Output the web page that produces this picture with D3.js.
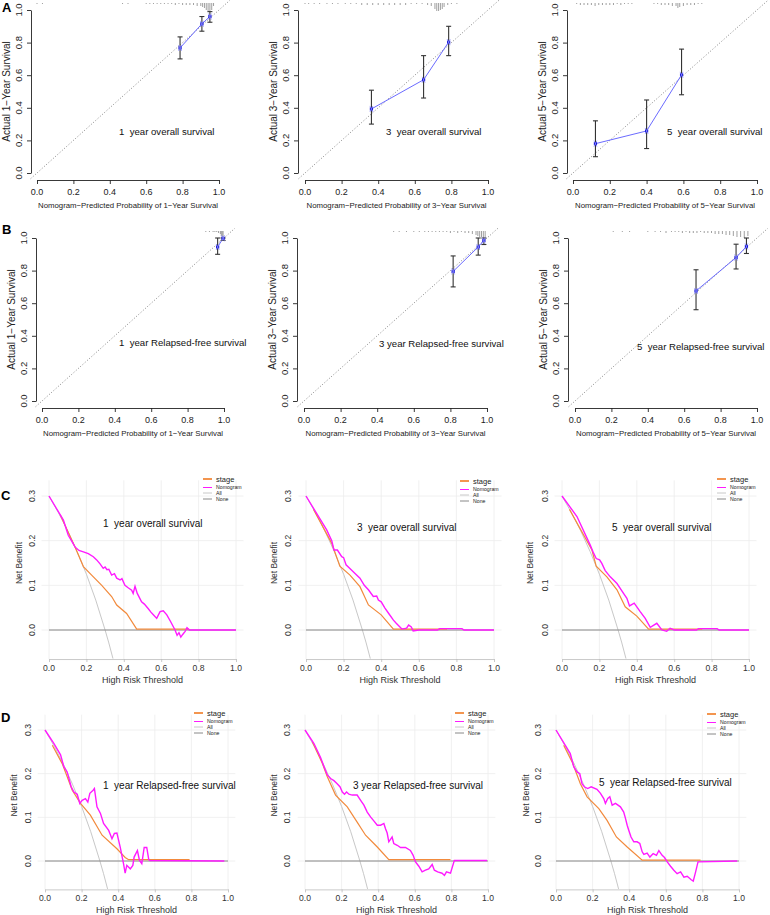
<!DOCTYPE html>
<html><head><meta charset="utf-8">
<script src="https://cdn.jsdelivr.net/npm/d3@7"></script>
<style>body{margin:0;background:#fff}svg{display:block}text{white-space:pre}</style>
</head><body>
<script>
// ---------- shared ticks ----------
const calibTicks = [0, 0.2, 0.4, 0.6, 0.8, 1.0];
const dcaXTicks = [0, 0.2, 0.4, 0.6, 0.8, 1.0];
const dcaYTicks = [0, 0.1, 0.2, 0.3];
const legendLabels = ["stage", "Nomogram", "All", "None"];

// ---------- calibration data ----------
const a1Pred = [0.786, 0.906, 0.950];
const a1Obs  = [0.767, 0.915, 0.960];
const a1Lo   = [0.700, 0.870, 0.925];
const a1Hi   = [0.835, 0.960, 0.990];
const a1SpikeP = [0.0,0.03,0.47,0.5,0.6,0.62,0.64,0.66,0.68,0.7,0.72,0.74,0.76,0.78,0.8,0.82,0.84,0.86,0.88,0.9,0.91,0.92,0.93,0.94,0.95,0.96,0.97];
const a1SpikeN = [1,1,1,1,1,1,1,1,1,1,1,1,2,1,2,2,2,2,3,3,4,5,7,8,8,7,3];

const a2Pred = [0.363, 0.648, 0.785];
const a2Obs  = [0.393, 0.572, 0.803];
const a2Lo   = [0.300, 0.460, 0.720];
const a2Hi   = [0.508, 0.720, 0.900];
const a2SpikeP = [0.0,0.02,0.05,0.08,0.12,0.15,0.18,0.22,0.25,0.28,0.31,0.34,0.37,0.40,0.43,0.46,0.49,0.52,0.55,0.58,0.61,0.64,0.67,0.69,0.71,0.72,0.73,0.74,0.75,0.76,0.78,0.80,0.83];
const a2SpikeN = [1,1,1,1,1,1,1,1,1,1,2,2,2,2,2,2,2,2,2,1,1,1,2,3,6,8,8,7,6,4,2,1,1];

const a3Pred = [0.122, 0.400, 0.590];
const a3Obs  = [0.180, 0.258, 0.602];
const a3Lo   = [0.100, 0.150, 0.480];
const a3Hi   = [0.320, 0.448, 0.760];
const a3SpikeP = [0.02,0.04,0.06,0.08,0.10,0.12,0.14,0.16,0.18,0.20,0.22,0.24,0.26,0.28,0.30,0.32,0.44,0.46,0.48,0.50,0.52,0.54,0.56,0.57,0.58,0.60,0.62,0.64,0.66,0.68,0.70];
const a3SpikeN = [1,2,2,2,2,3,2,2,2,2,2,1,2,1,1,1,1,1,2,2,2,3,3,5,4,3,2,2,2,1,1];

const b1Pred = [0.965, 0.995];
const b1Obs  = [0.945, 0.998];
const b1Lo   = [0.900, 0.985];
const b1Hi   = [1.000, 1.000];
const b1SpikeP = [0.9,0.92,0.94,0.95,0.96,0.97,0.98,0.985,0.99,0.995];
const b1SpikeN = [1,1,1,1,1,2,3,5,6,8];

const b2Pred = [0.815, 0.952, 0.983];
const b2Obs  = [0.795, 0.945, 0.985];
const b2Lo   = [0.700, 0.895, 0.960];
const b2Hi   = [0.890, 1.000, 1.000];
const b2SpikeP = [0.49,0.52,0.56,0.6,0.63,0.66,0.68,0.7,0.72,0.74,0.76,0.78,0.8,0.82,0.84,0.86,0.88,0.9,0.92,0.94,0.95,0.96,0.97,0.98,0.99];
const b2SpikeN = [1,1,1,1,1,1,1,1,1,1,1,1,2,1,2,1,2,2,3,4,5,6,6,7,7];

const b3Pred = [0.665, 0.885, 0.942];
const b3Obs  = [0.675, 0.880, 0.948];
const b3Lo   = [0.560, 0.810, 0.905];
const b3Hi   = [0.805, 0.962, 1.000];
const b3SpikeP = [0.21,0.26,0.30,0.40,0.44,0.47,0.50,0.53,0.55,0.57,0.59,0.61,0.63,0.65,0.67,0.69,0.71,0.73,0.75,0.77,0.79,0.81,0.83,0.85,0.87,0.89,0.91,0.93,0.95];
const b3SpikeN = [1,1,1,1,1,1,2,1,1,1,2,1,2,2,2,1,2,2,2,3,3,3,4,4,5,6,6,7,5];

// ---------- decision curve data [threshold, net benefit] ----------
const treatAll = [[0,0.3],[0.05,0.263],[0.1,0.222],[0.15,0.176],[0.2,0.125],[0.25,0.067],[0.3,0.0],[0.32,-0.029],[0.342,-0.064]];
const treatNone = [[0,0],[1,0]];

const c1Nom = [[0,0.3],[0.077,0.246],[0.094,0.224],[0.103,0.212],[0.12,0.2],[0.139,0.186],[0.16,0.178],[0.184,0.175],[0.21,0.171],[0.237,0.164],[0.255,0.157],[0.273,0.148],[0.29,0.138],[0.3,0.141],[0.31,0.135],[0.32,0.136],[0.335,0.123],[0.35,0.126],[0.362,0.116],[0.38,0.112],[0.39,0.115],[0.406,0.1],[0.425,0.094],[0.442,0.089],[0.45,0.082],[0.46,0.098],[0.472,0.082],[0.495,0.063],[0.51,0.058],[0.53,0.048],[0.545,0.04],[0.558,0.034],[0.576,0.026],[0.594,0.041],[0.611,0.043],[0.63,0.034],[0.65,0.019],[0.674,0.0],[0.685,-0.012],[0.695,-0.006],[0.705,-0.016],[0.715,-0.01],[0.728,-0.003],[0.738,0.005],[0.75,0.0],[1.0,0.0]];
const c1Stage = [[0.06,0.258],[0.139,0.186],[0.184,0.142],[0.228,0.123],[0.282,0.1],[0.335,0.075],[0.362,0.056],[0.415,0.037],[0.469,0.002],[0.75,0.002]];

const c2Nom = [[0,0.3],[0.11,0.224],[0.137,0.2],[0.149,0.179],[0.167,0.179],[0.19,0.164],[0.2,0.162],[0.213,0.146],[0.243,0.134],[0.265,0.125],[0.287,0.116],[0.31,0.1],[0.332,0.09],[0.358,0.075],[0.376,0.076],[0.385,0.067],[0.4,0.063],[0.42,0.049],[0.44,0.037],[0.465,0.022],[0.48,0.015],[0.51,0.002],[0.535,0.004],[0.546,0.011],[0.56,0.007],[0.57,-0.002],[0.6,0.0],[0.7,0.0],[0.71,0.003],[0.83,0.003],[0.84,0],[1.0,0]];
const c2Stage = [[0.04,0.27],[0.137,0.194],[0.18,0.143],[0.234,0.123],[0.287,0.097],[0.332,0.056],[0.4,0.034],[0.465,0.002],[0.75,0.002]];

const c3Nom = [[0,0.3],[0.08,0.254],[0.151,0.19],[0.169,0.172],[0.183,0.16],[0.201,0.157],[0.213,0.149],[0.231,0.133],[0.258,0.119],[0.294,0.104],[0.329,0.082],[0.347,0.071],[0.361,0.054],[0.386,0.06],[0.418,0.041],[0.445,0.026],[0.472,0.006],[0.507,0.015],[0.534,0.0],[0.56,-0.003],[0.578,0.004],[0.6,0],[0.72,0],[0.73,0.003],[0.83,0.003],[0.84,0],[1,0]];
const c3Stage = [[0.04,0.27],[0.16,0.179],[0.183,0.143],[0.24,0.119],[0.294,0.09],[0.338,0.052],[0.4,0.031],[0.463,0.002],[0.75,0.002]];

const d1Nom = [[0,0.3],[0.049,0.269],[0.085,0.243],[0.103,0.216],[0.121,0.204],[0.143,0.17],[0.158,0.158],[0.176,0.153],[0.19,0.132],[0.203,0.139],[0.221,0.143],[0.234,0.135],[0.245,0.155],[0.263,0.162],[0.27,0.166],[0.284,0.124],[0.303,0.109],[0.32,0.086],[0.348,0.07],[0.366,0.051],[0.379,0.063],[0.393,0.064],[0.411,0.032],[0.429,-0.006],[0.438,-0.028],[0.447,-0.01],[0.466,-0.018],[0.48,-0.01],[0.487,0.009],[0.505,0.024],[0.516,0.002],[0.529,-0.006],[0.542,0.031],[0.556,0.031],[0.567,0.003],[0.574,0.001],[0.98,0.0]];
const d1Stage = [[0.04,0.265],[0.094,0.223],[0.149,0.162],[0.194,0.132],[0.248,0.105],[0.312,0.059],[0.393,0.028],[0.438,0.008],[0.457,0.003],[0.79,0.003]];

const d2Nom = [[0,0.3],[0.049,0.269],[0.085,0.237],[0.104,0.216],[0.122,0.197],[0.14,0.189],[0.158,0.184],[0.173,0.178],[0.191,0.17],[0.204,0.158],[0.216,0.153],[0.227,0.158],[0.24,0.153],[0.258,0.151],[0.285,0.151],[0.304,0.139],[0.322,0.128],[0.34,0.112],[0.358,0.101],[0.376,0.092],[0.395,0.082],[0.413,0.082],[0.431,0.086],[0.44,0.074],[0.449,0.064],[0.458,0.044],[0.476,0.055],[0.485,0.04],[0.504,0.036],[0.522,0.031],[0.549,0.031],[0.576,0.024],[0.591,0.013],[0.604,-0.002],[0.622,-0.012],[0.64,-0.025],[0.658,-0.021],[0.676,-0.018],[0.695,-0.008],[0.707,-0.021],[0.725,-0.025],[0.749,-0.028],[0.762,-0.033],[0.773,-0.025],[0.795,-0.028],[0.816,0.001],[0.995,0.001]];
const d2Stage = [[0.04,0.273],[0.095,0.223],[0.122,0.193],[0.167,0.151],[0.231,0.124],[0.285,0.089],[0.331,0.059],[0.395,0.032],[0.458,0.003],[0.795,0.003]];

const d3Nom = [[0,0.3],[0.051,0.265],[0.078,0.246],[0.097,0.216],[0.115,0.204],[0.13,0.2],[0.142,0.177],[0.155,0.17],[0.173,0.166],[0.192,0.17],[0.224,0.164],[0.243,0.155],[0.261,0.143],[0.27,0.132],[0.283,0.143],[0.294,0.147],[0.307,0.128],[0.325,0.132],[0.352,0.124],[0.37,0.112],[0.38,0.097],[0.389,0.082],[0.398,0.07],[0.41,0.055],[0.425,0.044],[0.443,0.044],[0.458,0.04],[0.471,0.021],[0.48,0.015],[0.498,0.018],[0.513,0.009],[0.531,0.017],[0.549,0.013],[0.562,0.024],[0.58,0.013],[0.593,0.008],[0.608,-0.002],[0.626,-0.012],[0.644,-0.021],[0.662,-0.029],[0.681,-0.025],[0.699,-0.037],[0.717,-0.035],[0.739,-0.043],[0.75,-0.046],[0.763,-0.025],[0.776,-0.002],[0.99,0.0]];
const d3Stage = [[0.042,0.265],[0.088,0.227],[0.133,0.177],[0.17,0.147],[0.234,0.12],[0.279,0.093],[0.33,0.055],[0.389,0.032],[0.471,0.002],[0.79,0.002]];

// ---------- drawing ----------
const FONT = "'Liberation Sans', Arial, Helvetica, sans-serif";
const svg = d3.select("body").append("svg").attr("width", 770).attr("height", 915)
  .style("font-family", FONT);
const fmt = d3.format(".1f");

function panelLetter(t, x, y) {
  svg.append("text").attr("x", x).attr("y", y).text(t)
    .attr("font-size", 13).attr("font-weight", "bold").attr("fill", "#000");
}

function drawCalib(L, pred, obs, lo, hi, spP, spN, years, label) {
  const x = d3.scaleLinear([0, 1], [L.x0, L.x1]);
  const y = d3.scaleLinear([0, 1], [L.yBot, L.yTop]);
  const h = d3.scaleLinear([0, 8], [0, 8]);
  const g = svg.append("g");
  // spike histogram
  g.selectAll(".spk").data(spP).join("line")
    .attr("x1", d => x(d)).attr("x2", d => x(d))
    .attr("y1", L.spikeTop).attr("y2", (d, i) => L.spikeTop + h(spN[i]))
    .attr("stroke", "#888").attr("stroke-width", 0.8);
  // ideal line
  g.append("line").attr("x1", x(-0.035)).attr("y1", y(-0.035)).attr("x2", x(1.06)).attr("y2", y(1.06))
    .attr("stroke", "#777").attr("stroke-width", 0.9).attr("stroke-dasharray", "1,2");
  // axes
  const xa = g.append("g").attr("transform", `translate(0,${L.xAxisY})`)
    .call(d3.axisBottom(x).tickValues(calibTicks).tickSize(4).tickSizeOuter(0).tickFormat(""));
  const ya = g.append("g").attr("transform", `translate(${L.axisX},0)`)
    .call(d3.axisLeft(y).tickValues(calibTicks).tickSize(4).tickSizeOuter(0).tickFormat(""));
  [xa, ya].forEach(a => { a.selectAll("path,line").attr("stroke", "#222").attr("stroke-width", 0.9); });
  g.selectAll(".xt").data(calibTicks).join("text")
    .attr("x", d => x(d)).attr("y", L.xAxisY + 15).attr("text-anchor", "middle")
    .attr("font-size", 9).attr("fill", "#222").text(fmt);
  g.selectAll(".yt").data(calibTicks).join("text")
    .attr("transform", d => `translate(${L.axisX - 9},${y(d)}) rotate(-90)`)
    .attr("text-anchor", "middle").attr("font-size", 9.5).attr("fill", "#222").text(fmt);
  g.append("text").attr("x", (L.x0 + L.x1) / 2).attr("y", L.xAxisY + 28)
    .attr("text-anchor", "middle").attr("font-size", 7.8).attr("fill", "#222")
    .text(`Nomogram\u2212Predicted Probability of ${years}\u2212Year Survival`);
  g.append("text").attr("transform", `translate(${L.axisX - 21},${(L.yTop + L.yBot) / 2}) rotate(-90)`)
    .attr("text-anchor", "middle").attr("font-size", 10).attr("fill", "#222")
    .text(`Actual ${years}\u2212Year Survival`);
  // calibration line
  g.append("path").datum(pred.map((p, i) => [p, obs[i]]))
    .attr("d", d3.line().x(d => x(d[0])).y(d => y(d[1])))
    .attr("fill", "none").attr("stroke", "#6b6bff").attr("stroke-width", 1);
  // error bars
  pred.forEach((p, i) => {
    const cx = x(p);
    g.append("line").attr("x1", cx).attr("x2", cx).attr("y1", y(lo[i])).attr("y2", y(hi[i]))
      .attr("stroke", "#333").attr("stroke-width", 1.1);
    [lo[i], hi[i]].forEach(v => g.append("line").attr("x1", cx - 2.5).attr("x2", cx + 2.5)
      .attr("y1", y(v)).attr("y2", y(v)).attr("stroke", "#333").attr("stroke-width", 1.1));
  });
  g.selectAll(".pt").data(pred).join("rect")
    .attr("x", (d) => x(d) - 1.6).attr("y", (d, i) => y(obs[i]) - 1.6)
    .attr("width", 3.2).attr("height", 3.2).attr("fill", "#1010d0");
  g.selectAll(".pt2").data(pred).join("path")
    .attr("d", (d, i) => `M${x(d) - 1.5},${y(obs[i]) - 3}L${x(d) + 1.5},${y(obs[i]) + 3}M${x(d) + 1.5},${y(obs[i]) - 3}L${x(d) - 1.5},${y(obs[i]) + 3}`)
    .attr("stroke", "#8c8cff").attr("stroke-width", 0.8);
  g.append("text").attr("x", L.tx).attr("y", L.ty).attr("font-size", 9.6).attr("fill", "#111")
    .attr("xml:space", "preserve").text(label);
}

function drawDCA(L, nom, stage, label) {
  const x = d3.scaleLinear([0, 1], [L.x0, L.x1]);
  const y = d3.scaleLinear([0, 0.3], [L.y0, L.y3]);
  const g = svg.append("g");
  const top = y(0.335), bot = y(-0.065);
  // grid
  g.selectAll(".vg").data(dcaXTicks).join("line")
    .attr("x1", d => x(d)).attr("x2", d => x(d)).attr("y1", top).attr("y2", bot)
    .attr("stroke", "#ececec").attr("stroke-width", 0.8);
  g.selectAll(".hg").data(dcaYTicks).join("line")
    .attr("x1", x(-0.04)).attr("x2", x(1.04)).attr("y1", d => y(d)).attr("y2", d => y(d))
    .attr("stroke", "#ececec").attr("stroke-width", 0.8);
  // axes
  const xa = g.append("g").attr("transform", `translate(0,${bot})`)
    .call(d3.axisBottom(x).tickValues(dcaXTicks).tickSize(3).tickSizeOuter(0).tickFormat(""));
  xa.selectAll("path,line").attr("stroke", "#bbb").attr("stroke-width", 0.8);
  g.selectAll(".xt").data(dcaXTicks).join("text")
    .attr("x", d => x(d)).attr("y", bot + 12).attr("text-anchor", "middle")
    .attr("font-size", 8.6).attr("fill", "#333").text(fmt);
  g.selectAll(".yt").data(dcaYTicks).join("text")
    .attr("transform", d => `translate(${L.ytx},${y(d)}) rotate(-90)`)
    .attr("text-anchor", "middle").attr("font-size", 8.6).attr("fill", "#333").text(fmt);
  g.append("text").attr("x", (L.x0 + L.x1) / 2).attr("y", bot + 24)
    .attr("text-anchor", "middle").attr("font-size", 9).attr("fill", "#333").text("High Risk Threshold");
  g.append("text").attr("transform", `translate(${L.ylx},${(y(0) + y(0.3)) / 2}) rotate(-90)`)
    .attr("text-anchor", "middle").attr("font-size", 8.5).attr("fill", "#333").text("Net Benefit");
  const line = d3.line().x(d => x(d[0])).y(d => y(d[1]));
  g.append("path").datum(treatAll).attr("d", line).attr("fill", "none").attr("stroke", "#c8c8c8").attr("stroke-width", 1);
  g.append("path").datum(treatNone).attr("d", line).attr("fill", "none").attr("stroke", "#888").attr("stroke-width", 1.1);
  g.append("path").datum(stage).attr("d", line).attr("fill", "none").attr("stroke", "#f28a3c").attr("stroke-width", 1.2);
  g.append("path").datum(nom).attr("d", line).attr("fill", "none").attr("stroke", "#ff1aff").attr("stroke-width", 1.4);
  // legend
  const lc = ["#f28a3c", "#ff1aff", "#c8c8c8", "#888"];
  const lw = [1.8, 1, 1, 1];
  const ly = [L.ly, L.ly + 8.5, L.ly + 14, L.ly + 20];
  const lf = [7.5, 5.2, 5.2, 5.2];
  legendLabels.forEach((t, i) => {
    g.append("line").attr("x1", L.lx).attr("x2", L.lx + 9).attr("y1", ly[i]).attr("y2", ly[i])
      .attr("stroke", lc[i]).attr("stroke-width", lw[i]);
    g.append("text").attr("x", L.lx + 13).attr("y", ly[i] + (i === 0 ? 2.6 : 1.8))
      .attr("font-size", lf[i]).attr("fill", "#222").text(t);
  });
  g.append("text").attr("x", L.tx).attr("y", L.ty).attr("font-size", 10).attr("fill", "#111")
    .attr("xml:space", "preserve").text(label);
}

// Row A
const rowA = { yTop: 10, yBot: 173, xAxisY: 180, spikeTop: 3 };
drawCalib({ ...rowA, x0: 37, x1: 219, axisX: 31, tx: 119, ty: 134.5 }, a1Pred, a1Obs, a1Lo, a1Hi, a1SpikeP, a1SpikeN, 1, "1  year overall survival");
drawCalib({ ...rowA, x0: 305, x1: 488, axisX: 298, tx: 386, ty: 134.5 }, a2Pred, a2Obs, a2Lo, a2Hi, a2SpikeP, a2SpikeN, 3, "3  year overall survival");
drawCalib({ ...rowA, x0: 573, x1: 757, axisX: 567, tx: 667, ty: 134.5 }, a3Pred, a3Obs, a3Lo, a3Hi, a3SpikeP, a3SpikeN, 5, "5  year overall survival");
// Row B
const rowB = { yTop: 238, yBot: 401, xAxisY: 408, spikeTop: 231 };
drawCalib({ ...rowB, x0: 42, x1: 224, axisX: 36, tx: 119, ty: 346 }, b1Pred, b1Obs, b1Lo, b1Hi, b1SpikeP, b1SpikeN, 1, "1  year Relapsed-free survival");
drawCalib({ ...rowB, x0: 304, x1: 487, axisX: 297, tx: 379, ty: 347 }, b2Pred, b2Obs, b2Lo, b2Hi, b2SpikeP, b2SpikeN, 3, "3 year Relapsed-free survival");
drawCalib({ ...rowB, x0: 575, x1: 757, axisX: 568, tx: 637, ty: 350 }, b3Pred, b3Obs, b3Lo, b3Hi, b3SpikeP, b3SpikeN, 5, "5  year Relapsed-free survival");
// Row C
const rowC = { y0: 630, y3: 496 };
drawDCA({ ...rowC, x0: 49, x1: 236, ytx: 35, ylx: 22, lx: 203, ly: 479, tx: 103, ty: 527 }, c1Nom, c1Stage, "1  year overall survival");
drawDCA({ ...rowC, x0: 306, x1: 494, ytx: 291, ylx: 277, lx: 460, ly: 481, tx: 357, ty: 531 }, c2Nom, c2Stage, "3  year overall survival");
drawDCA({ ...rowC, x0: 562, x1: 749, ytx: 548, ylx: 533, lx: 717, ly: 479, tx: 612, ty: 531 }, c3Nom, c3Stage, "5  year overall survival");
// Row D
const rowD = { y0: 861, y3: 730 };
drawDCA({ ...rowD, x0: 45, x1: 228, ytx: 31, ylx: 17, lx: 194, ly: 713, tx: 103, ty: 789 }, d1Nom, d1Stage, "1  year Relapsed-free survival");
drawDCA({ ...rowD, x0: 305, x1: 488, ytx: 290, ylx: 277, lx: 455, ly: 713, tx: 353, ty: 789 }, d2Nom, d2Stage, "3 year Relapsed-free survival");
drawDCA({ ...rowD, x0: 556, x1: 739, ytx: 541, ylx: 529, lx: 707, ly: 714, tx: 599, ty: 786 }, d3Nom, d3Stage, "5  year Relapsed-free survival");

panelLetter("A", 2, 12);
panelLetter("B", 2, 234);
panelLetter("C", 1, 500);
panelLetter("D", 1, 722);
</script>
</body></html>
